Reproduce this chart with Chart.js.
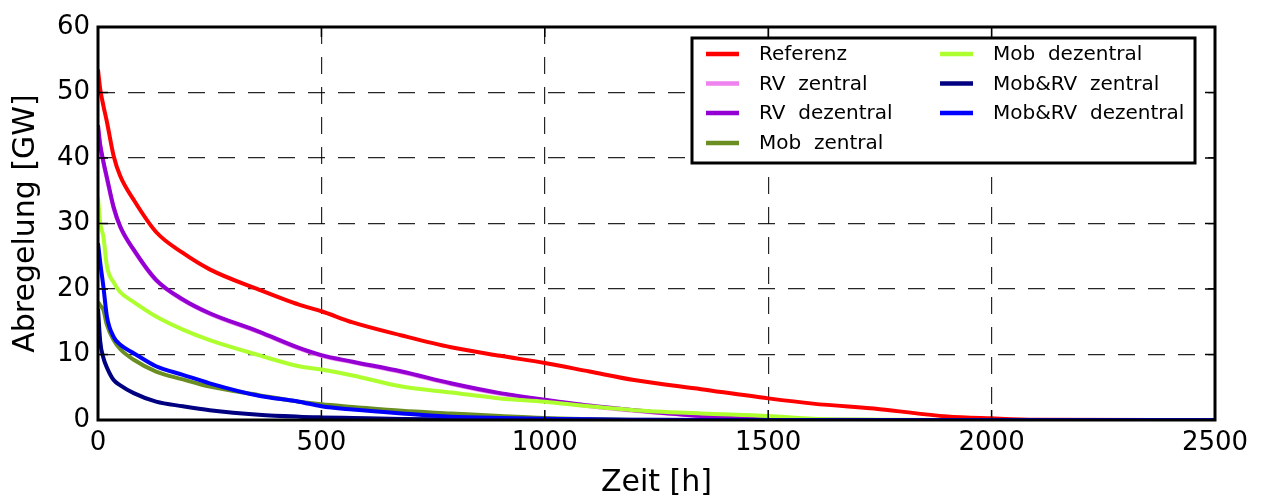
<!DOCTYPE html>
<html>
<head>
<meta charset="utf-8">
<script src="https://cdn.jsdelivr.net/npm/chart.js@4.4.1/dist/chart.umd.min.js"></script>
<style>
  body { margin: 0; background: #fff; }
  canvas { display: block; }
</style>
</head>
<body>
<canvas id="abregelung" width="1266" height="497"></canvas>
<script>
// sorted duration curves
const hours = [0, 5, 12, 20, 35, 50, 80, 130, 190, 250, 360, 450, 500, 570, 680, 790, 900, 1000, 1100, 1200, 1350, 1500, 1600, 1750, 1900, 2000, 2100, 2500];

const referenz       = [53.5, 50.5, 48, 45.5, 40.3, 37.2, 33.6, 28.7, 25.5, 23.0, 19.9, 17.6, 16.6, 14.9, 12.9, 11.1, 9.8, 8.7, 7.4, 6.1, 4.7, 3.3, 2.5, 1.65, 0.55, 0.25, 0.05, 0];
const rvZentral      = [44.5, 41.8, 39.3, 36.8, 32.3, 29.4, 25.9, 21.3, 18.3, 16.2, 13.4, 10.9, 9.8, 8.8, 7.3, 5.5, 4.0, 3.0, 2.1, 1.4, 0.6, 0.15, 0.05, 0, 0, 0, 0, 0];
const rvDezentral    = [45, 42, 39.5, 37, 32.5, 29.5, 26, 21.4, 18.4, 16.3, 13.5, 11.0, 9.9, 8.9, 7.4, 5.6, 4.1, 3.1, 2.2, 1.5, 0.6, 0.1, 0.05, 0, 0, 0, 0, 0];
const mobZentral     = [18, 17.5, 16.8, 14.5, 12.2, 10.8, 9.2, 7.4, 6.2, 5.1, 3.8, 2.8, 2.4, 2.0, 1.4, 1.0, 0.6, 0.3, 0.15, 0.05, 0, 0, 0, 0, 0, 0, 0, 0];
const mobDezentral   = [34, 30, 28, 23.5, 21, 19.5, 18, 15.8, 13.8, 12.2, 9.9, 8.2, 7.7, 6.8, 5.1, 4.2, 3.3, 2.8, 2.1, 1.5, 1.0, 0.6, 0.2, 0.05, 0, 0, 0, 0];
const mobRvZentral   = [17, 12, 9.5, 8, 6.1, 5.3, 4.1, 2.8, 2.1, 1.5, 0.8, 0.5, 0.4, 0.3, 0.15, 0.1, 0.05, 0, 0, 0, 0, 0, 0, 0, 0, 0, 0, 0];
const mobRvDezentral = [27, 24, 20.4, 15.8, 12.7, 11.5, 10.2, 8.2, 6.9, 5.6, 3.7, 2.8, 2.1, 1.6, 1.0, 0.5, 0.3, 0.2, 0.1, 0.05, 0, 0, 0, 0, 0, 0, 0, 0];

const seriesNames  = ['Referenz', 'RV  zentral', 'RV  dezentral', 'Mob  zentral', 'Mob  dezentral', 'Mob&RV  zentral', 'Mob&RV  dezentral'];
const seriesValues = [referenz, rvZentral, rvDezentral, mobZentral, mobDezentral, mobRvZentral, mobRvDezentral];
const seriesColors = ['#ff0000', '#ee82ee', '#9400d3', '#6b8e23', '#adff2f', '#000080', '#0000ff'];

const xTicks = [0, 500, 1000, 1500, 2000, 2500];
const yTicks = [0, 10, 20, 30, 40, 50, 60];

const FONT = '"DejaVu Sans", sans-serif';

// frame, inward ticks and the boxed two-column legend, matplotlib style
const framePlugin = {
  id: 'frame',
  afterDatasetsDraw(chart) {
    const { ctx, chartArea: a, scales: { x, y } } = chart;
    ctx.save();
    ctx.strokeStyle = '#000';
    ctx.lineWidth = 1.5;
    ctx.beginPath();
    xTicks.forEach(v => {
      const px = x.getPixelForValue(v);
      ctx.moveTo(px, a.bottom); ctx.lineTo(px, a.bottom - 10);
      ctx.moveTo(px, a.top); ctx.lineTo(px, a.top + 10);
    });
    yTicks.forEach(v => {
      const py = y.getPixelForValue(v);
      ctx.moveTo(a.left, py); ctx.lineTo(a.left + 10, py);
      ctx.moveTo(a.right, py); ctx.lineTo(a.right - 10, py);
    });
    ctx.stroke();
    ctx.lineWidth = 3;
    ctx.strokeRect(a.left, a.top, a.right - a.left, a.bottom - a.top);

    // legend
    const bx = 692, by = 38, bw = 503, bh = 125;
    ctx.fillStyle = '#fff';
    ctx.fillRect(bx, by, bw, bh);
    ctx.strokeRect(bx, by, bw, bh);
    const rows = [54, 83.5, 113, 143];
    const cols = [{ line: 706, text: 759 }, { line: 940, text: 993 }];
    ctx.font = '20px ' + FONT;
    ctx.textBaseline = 'middle';
    seriesNames.forEach((name, i) => {
      const c = cols[i < 4 ? 0 : 1];
      const ry = rows[i < 4 ? i : i - 4];
      ctx.strokeStyle = seriesColors[i];
      ctx.lineWidth = 4.5;
      ctx.beginPath();
      ctx.moveTo(c.line, ry); ctx.lineTo(c.line + 33, ry);
      ctx.stroke();
      ctx.fillStyle = '#000';
      ctx.fillText(name, c.text, ry + 1);
    });
    ctx.restore();
  }
};

new Chart(document.getElementById('abregelung'), {
  type: 'line',
  data: {
    datasets: seriesValues.map((vals, i) => ({
      label: seriesNames[i],
      data: hours.map((h, k) => ({ x: h, y: vals[k] })),
      borderColor: seriesColors[i],
      borderWidth: 4,
      pointRadius: 0,
      cubicInterpolationMode: 'monotone',
      fill: false,
      order: 10 - i
    }))
  },
  options: {
    responsive: false,
    animation: false,
    layout: { padding: { top: 27, right: 51, left: 0, bottom: 0 } },
    plugins: { legend: { display: false }, tooltip: { enabled: false } },
    scales: {
      x: {
        type: 'linear', min: 0, max: 2500,
        afterBuildTicks(s) { s.ticks = xTicks.map(v => ({ value: v })); },
        afterFit(s) { s.height = 77; },
        ticks: { padding: 8, maxRotation: 0, color: '#000', font: { family: FONT, size: 26 }, callback: v => String(v) },
        grid: { color: 'rgba(0,0,0,0.85)', lineWidth: 1.2, drawTicks: false },
        border: { display: false, dash: [17, 13] },
        title: { display: true, text: 'Zeit [h]', color: '#000', padding: 0, font: { family: FONT, size: 30, lineHeight: 0.9 } }
      },
      y: {
        type: 'linear', min: 0, max: 60,
        afterBuildTicks(s) { s.ticks = yTicks.map(v => ({ value: v })); },
        afterFit(s) { s.width = 98; },
        ticks: { padding: 8, color: '#000', font: { family: FONT, size: 26 }, callback: v => String(v) },
        grid: { color: 'rgba(0,0,0,0.85)', lineWidth: 1.2, drawTicks: false },
        border: { display: false, dash: [17, 13] },
        title: { display: true, text: 'Abregelung [GW]', color: '#000', padding: { top: 13, bottom: 0 }, font: { family: FONT, size: 30, lineHeight: 0.9 } }
      }
    }
  },
  plugins: [framePlugin]
});
</script>
</body>
</html>
